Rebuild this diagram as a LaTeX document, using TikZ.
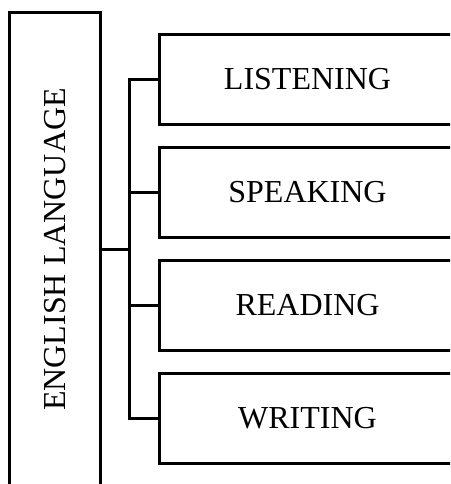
\documentclass[tikz,border=0pt]{standalone}
\usepackage{fontspec}
\setmainfont{Liberation Serif}
\begin{document}
\begin{tikzpicture}[x=1pt,y=-1pt,
  line width=2.4pt,
  txt/.style={font=\fontsize{32}{38}\selectfont},
  mainbox/.style={draw,txt,rotate=90,minimum width=474pt,minimum height=91pt,inner sep=0pt,anchor=center},
  skillbox/.style={draw,txt,minimum width=296pt,minimum height=90pt,inner sep=0pt,anchor=center}]
\clip (0,0) rectangle (450,484);
\node[mainbox] (main) at (55,249.5) {ENGLISH LANGUAGE};
\node[skillbox] (l1) at (307.5,79.5) {LISTENING};
\node[skillbox] (l2) at (307.5,192.5) {SPEAKING};
\node[skillbox] (l3) at (307.5,305.5) {READING};
\node[skillbox] (l4) at (307.5,418.5) {WRITING};
\coordinate (bus) at (129.5,249.5);
\draw (main.south) -- (bus);
\draw (l1.west) -| (bus);
\draw (l4.west) -| (bus);
\draw (l2.west) -- (l2.west -| bus);
\draw (l3.west) -- (l3.west -| bus);
\end{tikzpicture}
\end{document}
